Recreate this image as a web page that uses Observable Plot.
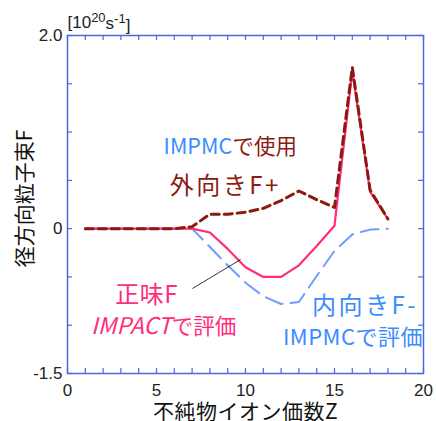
<!DOCTYPE html>
<html>
<head>
<meta charset="utf-8">
<script src="https://cdn.jsdelivr.net/npm/d3@7"></script>
<script src="https://cdn.jsdelivr.net/npm/@observablehq/plot@0.6"></script>
<style>
  html, body { margin: 0; padding: 0; background: #fff; }
</style>
</head>
<body>
<div id="chart"></div>
<script>
// Impurity ion charge Z
const Z = [1, 2, 3, 4, 5, 6, 7, 8, 9, 10, 11, 12, 13, 14, 15, 16, 17, 18];
// Net flux F (IMPACT), pink solid
const netF = [0, 0, 0, 0, 0, 0, 0, -0.04, -0.21, -0.40, -0.50, -0.50, -0.38, -0.18, 0.03, 1.63, 0.38, 0.10];
// Outward flux F+ (used in IMPMC), dark red dashed
const outF = [0, 0, 0, 0, 0, 0, 0.02, 0.15, 0.15, 0.17, 0.21, 0.29, 0.39, 0.30, 0.22, 1.67, 0.40, 0.10];
// Inward flux F- (IMPMC), blue dashed
const inF = [0, 0, 0, 0, 0, 0, 0, -0.19, -0.38, -0.56, -0.70, -0.78, -0.76, -0.49, -0.23, -0.06, -0.01, 0];

const xTickLabels = [0, 5, 10, 15, 20];
const xMinorTicks = [0, 1, 2, 3, 4, 5, 6, 7, 8, 9, 10, 11, 12, 13, 14, 15, 16, 17, 18, 19, 20];
const yTickLabels = [-1.5, 0, 2.0];
const yTickText = ["-1.5", "0", "2.0"];
const yMinorTicks = [-1.5, -1.0, -0.5, 0, 0.5, 1.0, 1.5, 2.0];

const W = 436, H = 421;
const mL = 67, mR = 13, mT = 35, mB = 48;
const innerW = W - mL - mR, innerH = H - mT - mB;

const FRAME = "#4a68e0";
const PINK = "#ff2d7b";
const DRED = "#8b1a10";
const BLUE_LINE = "#6f9cff";
const BLUE_TEXT = "#3a8cff";
const CJK = "'Noto Sans CJK JP', 'Noto Sans', sans-serif";
const LAT = "'Liberation Sans', Arial, sans-serif";

const rows = (ys) => Z.map((z, i) => ({z, v: ys[i]}));

function label(str, x, y, opts) {
  return Plot.text([str], {
    x: [x], y: [y], text: [str],
    lineAnchor: "bottom",
    fontFamily: CJK,
    ...opts
  });
}

const chart = Plot.plot({
  width: W, height: H,
  marginLeft: mL, marginRight: mR, marginTop: mT, marginBottom: mB,
  x: {domain: [0, 20]},
  y: {domain: [-1.5, 2]},
  style: {fontFamily: LAT, background: "#fff", color: "#222"},
  marks: [
    // minor ticks, inward, all four sides
    Plot.tickX(xMinorTicks, {x: d => d, insetTop: innerH - 5, stroke: FRAME, strokeWidth: 1.2}),
    Plot.tickX(xMinorTicks, {x: d => d, insetBottom: innerH - 5, stroke: FRAME, strokeWidth: 1.2}),
    Plot.tickY(yMinorTicks, {y: d => d, insetRight: innerW - 5, stroke: FRAME, strokeWidth: 1.2}),
    Plot.tickY(yMinorTicks, {y: d => d, insetLeft: innerW - 5, stroke: FRAME, strokeWidth: 1.2}),
    Plot.axisX({ticks: xTickLabels, tickSize: 0, tickPadding: 10, fontSize: 17, label: null, fontFamily: LAT}),
    Plot.axisY({ticks: yTickLabels, tickSize: 0, tickPadding: 5, fontSize: 17, label: null, fontFamily: LAT,
      tickFormat: d => yTickText[yTickLabels.indexOf(d)]}),
    // series
    Plot.line(rows(inF), {x: "z", y: "v", stroke: BLUE_LINE, strokeWidth: 2, strokeDasharray: "18,8"}),
    Plot.line(rows(netF), {x: "z", y: "v", stroke: PINK, strokeWidth: 2.2}),
    Plot.line(rows(outF), {x: "z", y: "v", stroke: DRED, strokeWidth: 3, strokeDasharray: "8,5"}),
    // leader line
    Plot.link([0], {x1: [7.02], y1: [-0.62], x2: [9.72], y2: [-0.32], stroke: "#000", strokeWidth: 0.8}),
    // annotations
    label("IMPMC", 9.25, 0.77, {fill: BLUE_TEXT, fontSize: 21.5, textAnchor: "end"}),
    label("で使用", 9.27, 0.77, {fill: DRED, fontSize: 21.5, textAnchor: "start"}),
    label("外向きF+", 5.75, 0.36, {fill: DRED, fontSize: 24, textAnchor: "start"}),
    label("正味F", 2.68, -0.77, {fill: PINK, fontSize: 24, textAnchor: "start"}),
    label("IMPACT", 5.84, -1.09, {fill: PINK, fontSize: 23, textAnchor: "end", fontStyle: "italic"}),
    label("で評価", 5.86, -1.09, {fill: PINK, fontSize: 21.5, textAnchor: "start"}),
    label("内向きF-", 13.74, -0.88, {fill: BLUE_TEXT, fontSize: 24, textAnchor: "start"}),
    label("IMPMCで評価", 12.1, -1.21, {fill: BLUE_TEXT, fontSize: 22, textAnchor: "start"}),
    // axis titles
    Plot.text(["径方向粒子束F"], {frameAnchor: "left", dx: -42, dy: -6, rotate: -90, fontSize: 21,
      fontFamily: CJK, fill: "#111", textAnchor: "middle", lineAnchor: "middle"}),
    Plot.text(["不純物イオン価数Z"], {frameAnchor: "bottom", dy: 38.5, fontSize: 21,
      fontFamily: CJK, fill: "#111", textAnchor: "middle", lineAnchor: "middle"}),
    Plot.text(["UNITS"], {frameAnchor: "top-left", dy: -8, textAnchor: "start", lineAnchor: "bottom",
      fontSize: 17, fontFamily: LAT, fill: "#222"}),
    Plot.frame({stroke: FRAME, strokeWidth: 1.5})
  ]
});

const spaced = {"外向きF+": "2.5px", "内向きF-": "2.5px", "正味F": "0.5px", "IMPMCで評価": "0.5px", "不純物イオン価数Z": "0.5px"};
d3.select(chart).selectAll("text").each(function() {
  const s = this.textContent;
  if (s === "UNITS") {
    const t = d3.select(this);
    t.text(null);
    t.append("tspan").text("[10");
    t.append("tspan").attr("dy", "-0.45em").attr("font-size", "13px").text("20");
    t.append("tspan").attr("dy", "0.45em").text("s");
    t.append("tspan").attr("dy", "-0.45em").attr("font-size", "13px").text("-1");
    t.append("tspan").attr("dy", "0.45em").text("]");
  } else if (spaced[s]) {
    d3.select(this).style("letter-spacing", spaced[s]);
  }
});

document.getElementById("chart").appendChild(chart);
</script>
</body>
</html>
